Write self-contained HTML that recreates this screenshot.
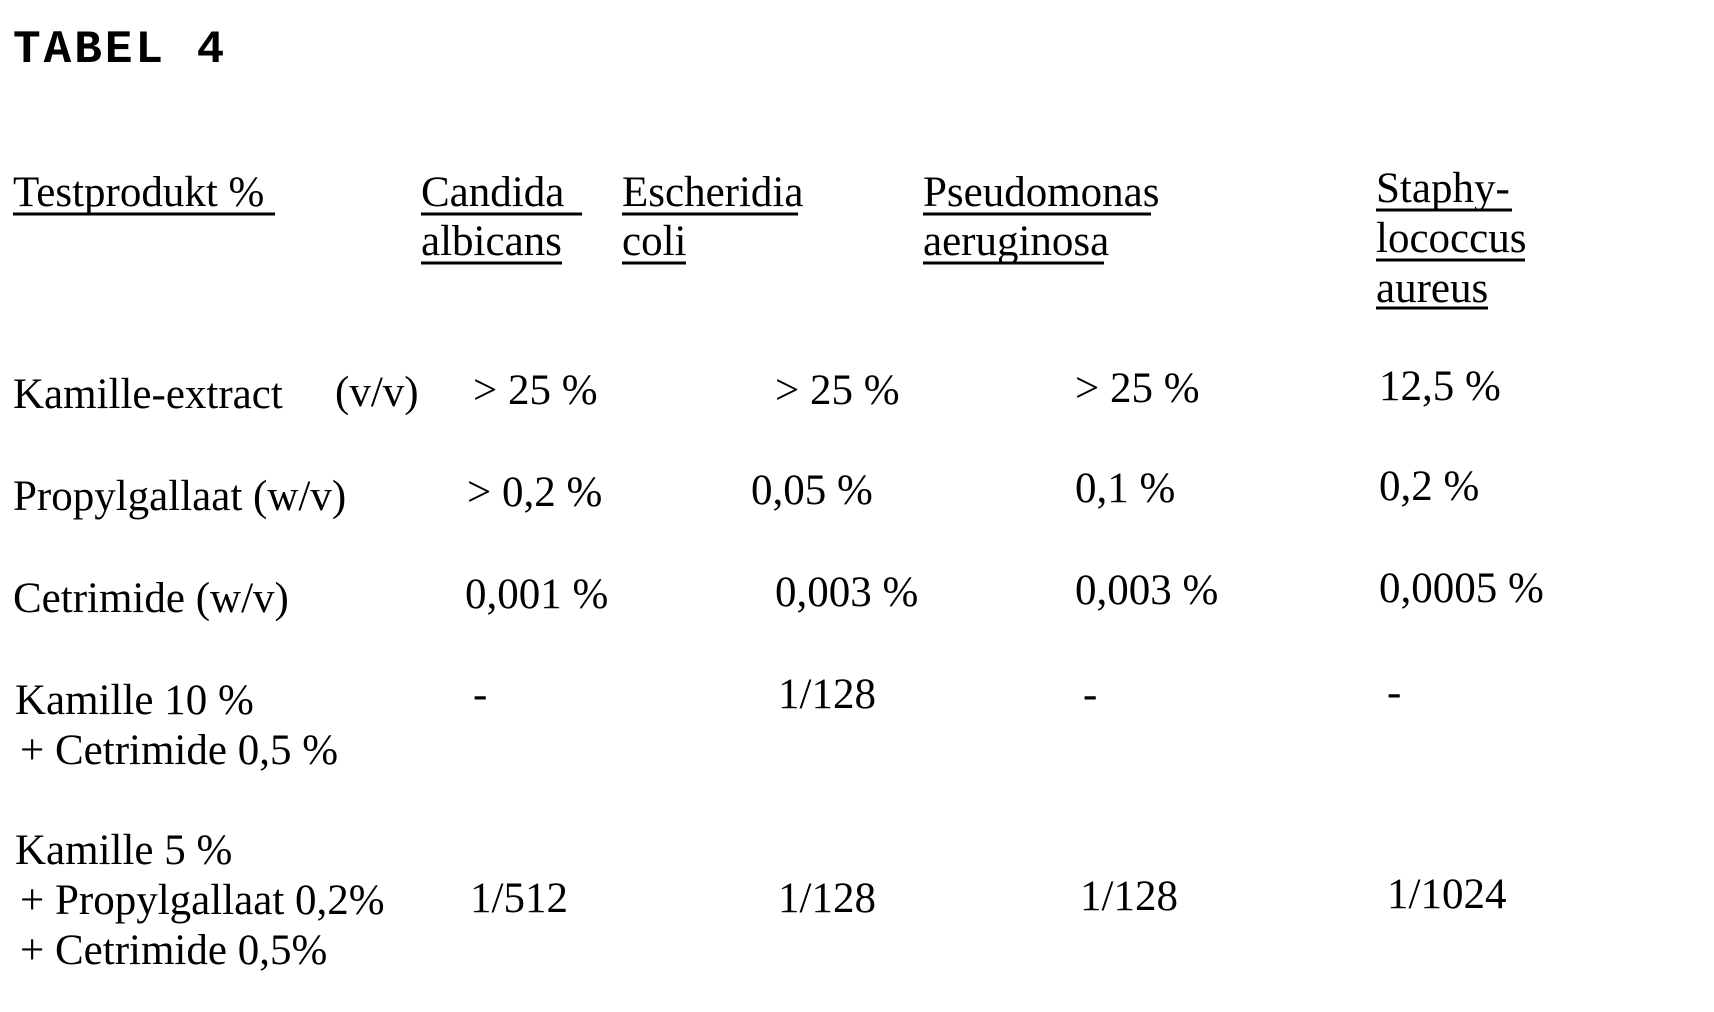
<!DOCTYPE html>
<html><head><meta charset="utf-8"><style>
html,body{margin:0;padding:0;background:#fff;width:1714px;height:1012px;overflow:hidden}
svg text{font-family:"Liberation Serif",serif;font-size:43px;fill:#000}
</style></head><body>
<svg width="1714" height="1012" xmlns="http://www.w3.org/2000/svg">
<text x="13" y="62" style="font-family:'Liberation Mono',monospace;font-weight:bold;font-size:46px;letter-spacing:3px">TABEL 4</text>
<g>
<text x="13" y="206">Testprodukt %</text>
<line x1="13" y1="214" x2="275" y2="214" stroke="#000" stroke-width="3"/>
<text x="421" y="206">Candida</text>
<line x1="421" y1="214" x2="582" y2="214" stroke="#000" stroke-width="3"/>
<text x="421" y="255">albicans</text>
<line x1="421" y1="263" x2="562" y2="263" stroke="#000" stroke-width="3"/>
<text x="622" y="206">Escheridia</text>
<line x1="622" y1="214" x2="798" y2="214" stroke="#000" stroke-width="3"/>
<text x="622" y="255">coli</text>
<line x1="622" y1="263" x2="686" y2="263" stroke="#000" stroke-width="3"/>
<text x="923" y="206">Pseudomonas</text>
<line x1="923" y1="214" x2="1151" y2="214" stroke="#000" stroke-width="3"/>
<text x="923" y="255">aeruginosa</text>
<line x1="923" y1="263" x2="1104" y2="263" stroke="#000" stroke-width="3"/>
<text x="1376" y="202">Staphy-</text>
<line x1="1376" y1="210" x2="1512" y2="210" stroke="#000" stroke-width="3"/>
<text x="1376" y="252">lococcus</text>
<line x1="1376" y1="260" x2="1525" y2="260" stroke="#000" stroke-width="3"/>
<text x="1376" y="302">aureus</text>
<line x1="1376" y1="308" x2="1488" y2="308" stroke="#000" stroke-width="3"/>
</g>
<text x="13" y="408">Kamille-extract</text><text x="335" y="406">(v/v)</text>
<text x="473" y="404">&gt; 25 %</text><text x="775" y="404">&gt; 25 %</text><text x="1075" y="402">&gt; 25 %</text><text x="1379" y="400">12,5 %</text>

<text x="13" y="510">Propylgallaat (w/v)</text>
<text x="467" y="506">&gt; 0,2 %</text><text x="751" y="504">0,05 %</text><text x="1075" y="502">0,1 %</text><text x="1379" y="500">0,2 %</text>

<text x="13" y="612">Cetrimide (w/v)</text>
<text x="465" y="608">0,001 %</text><text x="775" y="606">0,003 %</text><text x="1075" y="604">0,003 %</text><text x="1379" y="602">0,0005 %</text>

<text x="15" y="714">Kamille 10 %</text>
<text x="20" y="764">+ Cetrimide 0,5 %</text>
<text x="473" y="708">-</text><text x="778" y="708">1/128</text><text x="1083" y="708">-</text><text x="1387" y="706">-</text>

<text x="15" y="864">Kamille 5 %</text>
<text x="20" y="914">+ Propylgallaat 0,2%</text>
<text x="20" y="964">+ Cetrimide 0,5%</text>
<text x="470" y="912">1/512</text><text x="778" y="912">1/128</text><text x="1080" y="910">1/128</text><text x="1387" y="908">1/1024</text>
</svg>
</body></html>
